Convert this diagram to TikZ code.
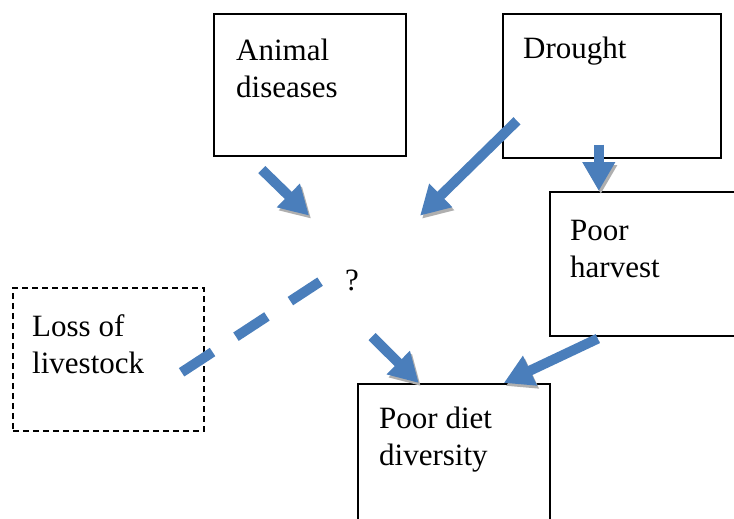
\documentclass[tikz,border=0pt]{standalone}
\usepackage{fontspec}
\setmainfont{Liberation Serif}
\usetikzlibrary{arrows.meta}
\definecolor{arrowblue}{RGB}{74,126,187}
\definecolor{shadowgray}{RGB}{175,175,175}

\begin{document}
\begin{tikzpicture}[x=1pt,y=-1pt,
    bx/.style={draw,line width=1.6pt,anchor=north west,inner sep=0pt},
    lbl/.style={anchor=base west,align=left,inner sep=0pt,font=\fontsize{31pt}{37pt}\selectfont},
    ar/.style={line width=10pt,draw=arrowblue,-{Triangle[width=31pt,length=29pt]},
        preaction={draw=shadowgray,transform canvas={shift={(2pt,-3pt)}}}},
    dl/.style={line width=10pt,draw=arrowblue,dash pattern=on 37pt off 28pt,
        preaction={draw=shadowgray,dash pattern=on 37pt off 28pt,transform canvas={shift={(2pt,-3pt)}}}}
]
\clip (0,0) rectangle (734,519);
\node[bx,minimum width=192pt,minimum height=142pt] (ad) at (213,13) {};
\node[bx,minimum width=218pt,minimum height=144pt] (dr) at (502,13) {};
\node[bx,minimum width=196pt,minimum height=144pt] (ph) at (549,191) {};
\node[bx,dash pattern=on 6pt off 4pt,minimum width=191pt,minimum height=143pt] (ll) at (12,287) {};
\node[bx,minimum width=192pt,minimum height=150pt] (pd) at (357,383) {};
\node[lbl] (ad-txt) at (236,98) {Animal\\diseases};
\node[lbl] (dr-txt) at (523,59) {Drought};
\node[lbl] (ph-txt) at (570,277) {Poor\\harvest};
\node[lbl] (ll-txt) at (32,373) {Loss of\\livestock};
\node[lbl] (pd-txt) at (379,465) {Poor diet\\diversity};
\node[lbl] (q) at (345,290) {?};
\draw[ar] ([xshift=-48pt,yshift=-13pt]ad.south) -- ([xshift=-43pt,yshift=75pt]q.south);
\draw[ar] ([xshift=15pt,yshift=-35pt]dr.west) -- ([xshift=68pt,yshift=75pt]q.south);
\draw[ar] ([xshift=-13pt,yshift=14pt]dr.south) -- ([xshift=-49pt]ph.north);
\draw[ar] ([xshift=20pt,yshift=-46pt]q.south) -- ([xshift=-35pt]pd.north);
\draw[ar] ([xshift=-50pt,yshift=-2pt]ph.south) -- ([xshift=50pt]pd.north);
\draw[dl] ([xshift=-23pt,yshift=-13pt]ll.east) -- ([xshift=-32pt,yshift=9pt]q.south);
\end{tikzpicture}
\end{document}
